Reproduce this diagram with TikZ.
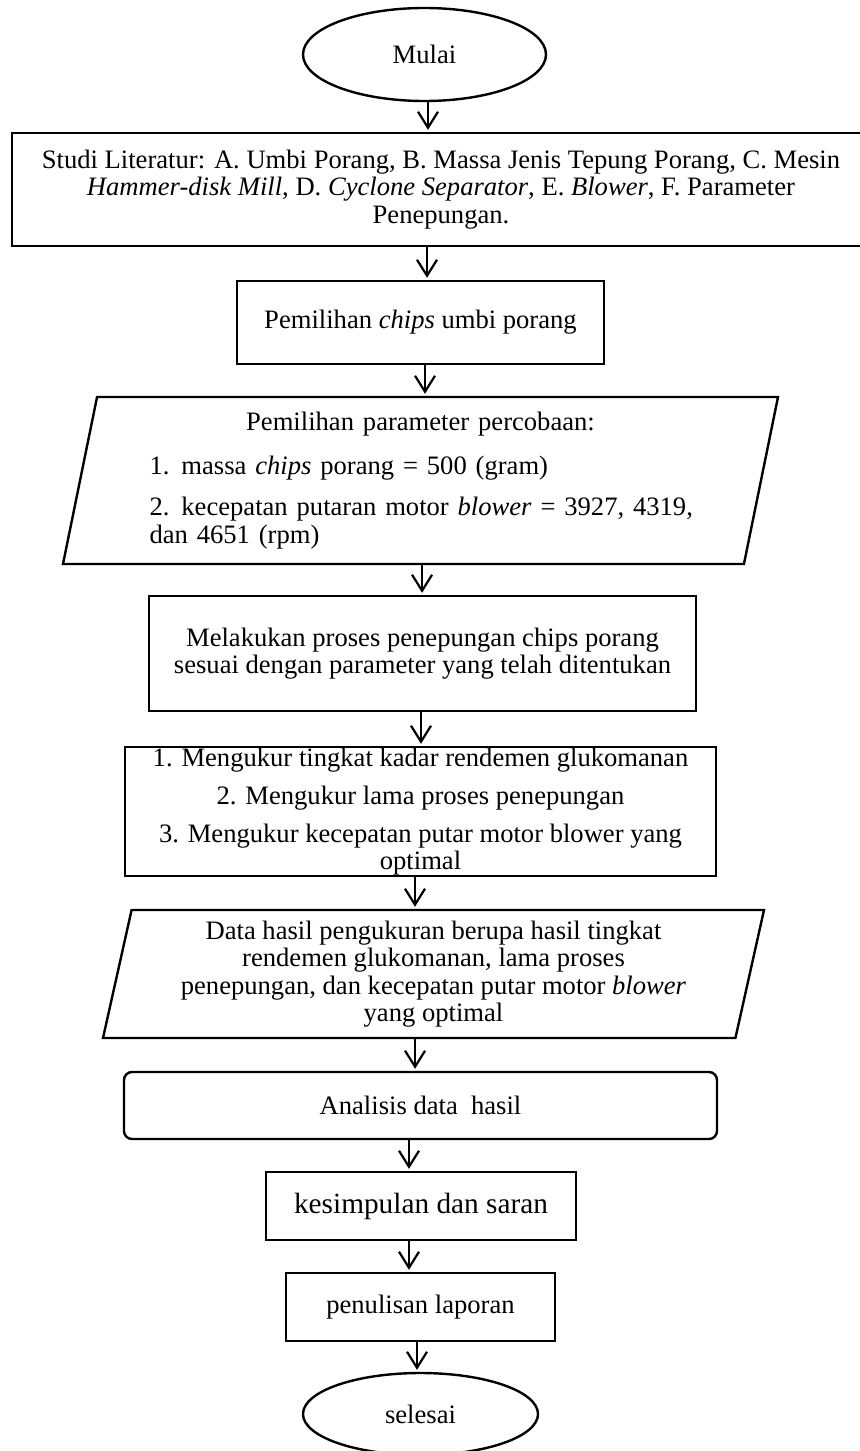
\documentclass[tikz,border=0pt]{standalone}
\usepackage{fontspec}
\setmainfont{Liberation Serif}
\usetikzlibrary{shapes.geometric,arrows.meta}

\begin{document}
\begin{tikzpicture}[x=0.5pt,y=-0.5pt,
  font=\fontsize{13.3}{13.75}\selectfont,
  box/.style={draw,line width=1.2pt,rectangle,inner sep=0pt,align=center},
  term/.style={draw,line width=1.2pt,ellipse,inner sep=0pt},
  io/.style={draw,line width=1.2pt,trapezium,trapezium stretches body,inner sep=0pt},
  arr/.style={line width=1.1pt,shorten >=1pt,-{Straight Barb[length=8pt,width=10pt]}}]

  \useasboundingbox (0,0) rectangle (859,1451);

  \node[term,minimum width=121.5pt,minimum height=46.5pt] (mulai) at (424.5,54.5) {Mulai};
  \node[box,minimum width=429pt,minimum height=56.5pt] (studi) at (441,189.5)
    {Studi Literatur: A. Umbi Porang, B. Massa Jenis Tepung Porang, C. Mesin\\
     \textit{Hammer-disk Mill}, D. \textit{Cyclone Separator}, E. \textit{Blower}, F. Parameter\\
     Penepungan.};
  \node[box,minimum width=183.5pt,minimum height=41.5pt] (chips) at (420.5,322.5)
    {Pemilihan \textit{chips} umbi porang};
  \node[io,trapezium left angle=76,trapezium right angle=104,
        minimum width=357.5pt,minimum height=83.5pt,text width=290pt]
    (param) at (420.5,480.5)
    {\vspace*{8pt}{\centering Pemilihan parameter percobaan:\par}
     {\raggedright\leftskip=9.5pt
     1.\hspace{6pt}massa \textit{chips} porang = 500 (gram)\par\vspace{7pt}
     2.\hspace{6pt}kecepatan putaran motor \textit{blower} = 3927, 4319,\\
     dan 4651 (rpm)\par}};
  \node[box,minimum width=273.5pt,minimum height=57.5pt] (proses) at (422.5,653.5)
    {Melakukan proses penepungan chips porang\\
     sesuai dengan parameter yang telah ditentukan};
  \node[box,minimum width=295.5pt,minimum height=64.5pt] (ukur) at (420.5,811.5)
    {1. Mengukur tingkat kadar rendemen glukomanan\\[5.25pt]
     2. Mengukur lama proses penepungan\\[5.25pt]
     3. Mengukur kecepatan putar motor blower yang\\
     optimal};
  \node[io,trapezium left angle=75,trapezium right angle=105,align=center,
        minimum width=330.5pt,minimum height=64pt] (data) at (433.5,974)
    {Data hasil pengukuran berupa hasil tingkat\\
     rendemen glukomanan, lama proses\\
     penepungan, dan kecepatan putar motor \textit{blower}\\
     yang optimal};
  \node[box,rounded corners=4pt,minimum width=296.5pt,minimum height=33.5pt] (analisis) at (420.5,1105.5)
    {Analisis data\ \ hasil};
  \node[box,minimum width=155pt,minimum height=34pt,font=\fontsize{14.65}{15}\selectfont] (simpul) at (421,1206)
    {kesimpulan dan saran};
  \node[box,minimum width=134.5pt,minimum height=34pt] (laporan) at (420.5,1307)
    {penulisan laporan};
  \node[term,minimum width=117.5pt,minimum height=41pt] (selesai) at (420.5,1414) {selesai};

  \draw[arr] ([xshift=1.75pt]mulai.south) -- ([xshift=1.75pt]mulai.south |- studi.north);
  \draw[arr] ([xshift=-7pt]studi.south) -- ([xshift=-7pt]studi.south |- chips.north);
  \draw[arr] ([xshift=2.25pt]chips.south) -- ([xshift=2.25pt]chips.south |- param.north);
  \draw[arr] ([xshift=0.75pt]param.south) -- ([xshift=0.75pt]param.south |- proses.north);
  \draw[arr] ([xshift=-0.75pt]proses.south) -- ([xshift=-0.75pt]proses.south |- ukur.north);
  \draw[arr] ([xshift=-2.75pt]ukur.south) -- ([xshift=-2.75pt]ukur.south |- data.north);
  \draw[arr] ([xshift=-9.25pt]data.south) -- ([xshift=-9.25pt]data.south |- analisis.north);
  \draw[arr] ([xshift=-5.75pt]analisis.south) -- ([xshift=-5.75pt]analisis.south |- simpul.north);
  \draw[arr] ([xshift=-6pt]simpul.south) -- ([xshift=-6pt]simpul.south |- laporan.north);
  \draw[arr] ([xshift=-1.75pt]laporan.south) -- ([xshift=-1.75pt]laporan.south |- selesai.north);
\end{tikzpicture}
\end{document}
